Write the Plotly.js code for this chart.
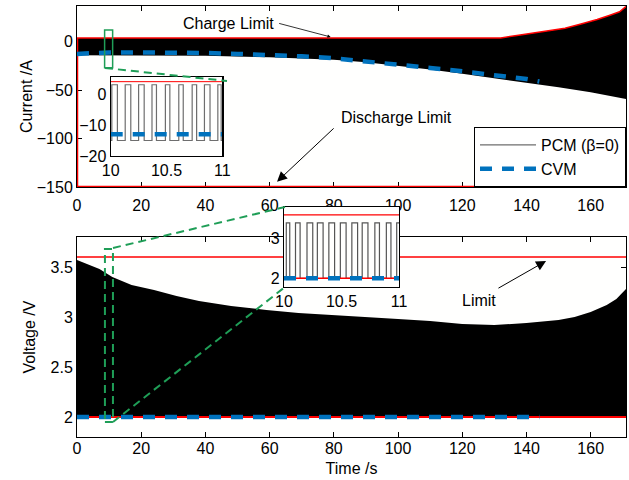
<!DOCTYPE html>
<html>
<head>
<meta charset="utf-8">
<script src="https://cdn.plot.ly/plotly-3.0.1.min.js"></script>
<style>html,body{margin:0;padding:0;background:#fff;}#chart{width:629px;height:480px;}</style>
</head>
<body>
<div id="chart"></div>
<script>
// ---------------- DATA ----------------
// Top panel: current (A)
const pcmLowT  = [0, 20, 40, 60, 70, 80, 90, 100, 110, 120, 130, 140, 150, 160, 171];
const pcmLowI  = [-14, -14, -14.5, -16, -17, -18.5, -21, -24.5, -28.5, -33, -37.5, -42, -47, -52, -59];
const chargeLimitT = [0, 132, 137, 142, 147, 152, 157, 162, 166, 169, 171];
const chargeLimitI = [4, 4, 6.5, 9, 11.5, 14, 18.5, 23, 27.5, 31, 36.5];
const dischargeLimitT = [0, 0, 171];
const dischargeLimitI = [4, -150, -150];
const cvmT = [0, 5, 10, 20, 30, 40, 50, 60, 70, 80, 90, 100, 110, 120, 130, 140, 144];
const cvmI = [-12.5, -11.5, -11, -11, -11, -11.5, -12.5, -13.5, -15, -17, -20, -23, -27, -30.5, -34, -38.5, -41];

// Top inset (10 s .. 11 s)
const insetPcmT = [10.00, 10.01, 10.06, 10.13, 10.18, 10.25, 10.30, 10.37, 10.41, 10.49, 10.53, 10.61, 10.65, 10.73, 10.77, 10.84, 10.89, 10.96, 10.99, 11.00];
const insetPcmI = [-15, 3, -15, 3, -15, 3, -15, 3, -15, 3, -15, 3, -15, 3, -15, 3, -15, 3, -15, -15];
const insetCvmT = [10, 11];
const insetCvmI = [-13, -13];
const insetLimitT = [10, 11];
const insetLimitI = [4, 4];

// Bottom panel: voltage (V)
const voltUpperT = [0, 7, 11, 17, 24, 31, 38, 48, 59, 69, 80, 90, 100, 110, 120, 130, 140, 150, 155, 160, 165, 168, 171];
const voltUpperV = [3.57, 3.48, 3.40, 3.32, 3.27, 3.21, 3.16, 3.11, 3.07, 3.04, 3.02, 3.00, 2.98, 2.96, 2.93, 2.92, 2.94, 2.97, 3.00, 3.05, 3.12, 3.18, 3.28];
const voltLowerT = [0, 171];
const voltLowerV = [2.0, 2.0];
const voltMaxT = [0, 171];
const voltMaxV = [3.6, 3.6];
const voltMinT = [0, 171];
const voltMinV = [2.0, 2.0];
const cvmVoltT = [0, 144];
const cvmVoltV = [2.0, 2.0];

// Bottom inset (10 s .. 11 s)
const insetVoltT = [10.00, 10.02, 10.05, 10.10, 10.14, 10.20, 10.25, 10.29, 10.34, 10.39, 10.44, 10.49, 10.54, 10.59, 10.64, 10.68, 10.73, 10.79, 10.83, 10.89, 10.93, 10.98, 11.00];
const insetVoltV = [2.0, 3.4, 2.0, 3.4, 2.0, 3.4, 2.0, 3.4, 2.0, 3.4, 2.0, 3.4, 2.0, 3.4, 2.0, 3.4, 2.0, 3.4, 2.0, 3.4, 2.0, 3.4, 3.4];
const insetVoltMaxV = [3.6, 3.6];
const insetVoltMinV = [2.0, 2.0];
const insetCvmVoltV = [2.0, 2.0];

// Ticks / labels
const timeTicks = [0, 20, 40, 60, 80, 100, 120, 140, 160];
const currentTicks = [-150, -100, -50, 0];
const voltTicks = [2, 2.5, 3, 3.5];
const insetTimeTicks = [10, 10.5, 11];
const insetTimeLabels = ['10', '10.5', '11'];
const insetCurrentTicks = [-20, -10, 0];
const insetVoltTicks = [2, 3];
const legendNames = ['PCM (β=0)', 'CVM'];

// ---------------- STYLE ----------------
const FONT = 'Liberation Sans, Arial, sans-serif';
const RED = '#ff0000';
const BLUE = '#0072BD';
const GREEN = '#1f9e57';
const CVM_DASH = '12px,10px';

// layout geometry in pixels
const W = 629, H = 480, ML = 77, MR = 3, MT = 6, MB = 43;
const PW = W - ML - MR, PH = H - MT - MB;
const px = x => (x - ML) / PW;
const py = y => (H - MB - y) / PH;

const polyX = pcmLowT.concat(chargeLimitT.slice().reverse());
const polyI = pcmLowI.concat(chargeLimitI.slice().reverse());
const polyVX = voltLowerT.concat(voltUpperT.slice().reverse());
const polyVV = voltLowerV.concat(voltUpperV.slice().reverse());

const traces = [
  // top panel
  {x: polyX, y: polyI, xaxis: 'x', yaxis: 'y', type: 'scatter', mode: 'lines', fill: 'toself',
   fillcolor: '#000000', line: {width: 0, color: '#000'}, showlegend: false, hoverinfo: 'skip'},
  {x: chargeLimitT, y: chargeLimitI, xaxis: 'x', yaxis: 'y', mode: 'lines', line: {color: RED, width: 1.5}, showlegend: false},
  {x: dischargeLimitT, y: dischargeLimitI, xaxis: 'x', yaxis: 'y', mode: 'lines', line: {color: RED, width: 2.5}, showlegend: false},
  {x: cvmT, y: cvmI, xaxis: 'x', yaxis: 'y', mode: 'lines', line: {color: BLUE, width: 4.5, dash: CVM_DASH}, name: legendNames[1], showlegend: true, legendrank: 2},
  // bottom panel
  {x: polyVX, y: polyVV, xaxis: 'x2', yaxis: 'y2', type: 'scatter', mode: 'lines', fill: 'toself',
   fillcolor: '#000000', line: {width: 0, color: '#000'}, showlegend: false, hoverinfo: 'skip'},
  {x: voltMaxT, y: voltMaxV, xaxis: 'x2', yaxis: 'y2', mode: 'lines', line: {color: RED, width: 1.5}, showlegend: false},
  {x: voltMinT, y: voltMinV, xaxis: 'x2', yaxis: 'y2', mode: 'lines', line: {color: RED, width: 2}, showlegend: false},
  {x: cvmVoltT, y: cvmVoltV, xaxis: 'x2', yaxis: 'y2', mode: 'lines', line: {color: BLUE, width: 4.5, dash: CVM_DASH}, showlegend: false},
  // top inset
  {x: insetLimitT, y: insetLimitI, xaxis: 'x3', yaxis: 'y3', mode: 'lines', line: {color: RED, width: 1}, showlegend: false},
  {x: insetPcmT, y: insetPcmI, xaxis: 'x3', yaxis: 'y3', mode: 'lines', line: {color: '#6e6e6e', width: 1.2, shape: 'hv'}, name: legendNames[0], showlegend: true, legendrank: 1},
  {x: insetCvmT, y: insetCvmI, xaxis: 'x3', yaxis: 'y3', mode: 'lines', line: {color: BLUE, width: 4.5, dash: CVM_DASH}, showlegend: false},
  // bottom inset
  {x: insetCvmT, y: insetVoltMaxV, xaxis: 'x4', yaxis: 'y4', mode: 'lines', line: {color: RED, width: 1.2}, showlegend: false},
  {x: insetVoltT, y: insetVoltV, xaxis: 'x4', yaxis: 'y4', mode: 'lines', line: {color: '#555', width: 1.2, shape: 'hv'}, showlegend: false},
  {x: insetCvmT, y: insetVoltMinV, xaxis: 'x4', yaxis: 'y4', mode: 'lines', line: {color: RED, width: 1.5}, showlegend: false},
  {x: insetCvmT, y: insetCvmVoltV, xaxis: 'x4', yaxis: 'y4', mode: 'lines', line: {color: BLUE, width: 4.5, dash: CVM_DASH}, showlegend: false}
];

const tickFont = {family: FONT, size: 16, color: '#000'};
const mainAxis = {
  showline: true, mirror: 'ticks', linecolor: '#000', linewidth: 1,
  ticks: 'inside', ticklen: 5, tickwidth: 1, tickcolor: '#000',
  showgrid: false, zeroline: false, tickfont: tickFont, layer: 'below traces'
};
const insetAxis = {
  showline: true, mirror: true, linecolor: '#000', linewidth: 1.2,
  ticks: '', showgrid: false, zeroline: false, tickfont: tickFont, layer: 'above traces'
};

const layout = {
  width: W, height: H,
  margin: {l: ML, r: MR, t: MT, b: MB, pad: 0},
  paper_bgcolor: '#ffffff', plot_bgcolor: '#fffffe',
  font: {family: FONT, size: 16, color: '#000'},
  showlegend: true,
  legend: {x: 1, xanchor: 'right', y: py(127), yanchor: 'top', bgcolor: '#ffffff',
           bordercolor: '#000', borderwidth: 1, font: {family: FONT, size: 16, color: '#000'},
           traceorder: 'normal', itemwidth: 56},
  xaxis: Object.assign({}, mainAxis, {domain: [0, 1], range: [0, 171], tickvals: timeTicks, anchor: 'y', ticklabelstandoff: 4}),
  yaxis: Object.assign({}, mainAxis, {domain: [py(187), 1], range: [-150, 37], tickvals: currentTicks, anchor: 'x',
          title: {text: 'Current /A', font: {family: FONT, size: 16}}}),
  xaxis2: Object.assign({}, mainAxis, {domain: [0, 1], range: [0, 171], tickvals: timeTicks, anchor: 'y2', ticklabelstandoff: -3,
          title: {text: 'Time /s', font: {family: FONT, size: 16}, standoff: 6}}),
  yaxis2: Object.assign({}, mainAxis, {domain: [0, py(237)], range: [1.8, 3.8], tickvals: voltTicks, anchor: 'x2',
          title: {text: 'Voltage /V', font: {family: FONT, size: 16}}}),
  xaxis3: Object.assign({}, insetAxis, {domain: [px(110.7), px(222.3)], range: [10, 11], tickvals: insetTimeTicks, ticktext: insetTimeLabels, anchor: 'y3'}),
  yaxis3: Object.assign({}, insetAxis, {domain: [py(156), py(76.7)], range: [-20, 5.6], tickvals: insetCurrentTicks, anchor: 'x3'}),
  xaxis4: Object.assign({}, insetAxis, {domain: [px(284), px(399)], range: [10, 11], tickvals: insetTimeTicks, ticktext: insetTimeLabels, anchor: 'y4'}),
  yaxis4: Object.assign({}, insetAxis, {domain: [py(287), py(207)], range: [1.78, 3.8], tickvals: insetVoltTicks, anchor: 'x4'}),
  shapes: [
    // zoom box + connector in top panel
    {type: 'rect', xref: 'x', yref: 'y', x0: 8.6, x1: 11.1, y0: -26.7, y1: 12.2, line: {color: GREEN, width: 1.5}, layer: 'above'},
    {type: 'line', xref: 'paper', yref: 'paper', x0: px(105), y0: py(68), x1: px(227), y1: py(81), line: {color: GREEN, width: 2, dash: '8px,5px'}, layer: 'above'},
    // zoom box + connectors in bottom panel
    {type: 'rect', xref: 'x2', yref: 'y2', x0: 8.7, x1: 11.2, y0: 1.95, y1: 3.68, line: {color: GREEN, width: 2, dash: '8px,5px'}, layer: 'above'},
    {type: 'line', xref: 'paper', yref: 'paper', x0: px(113), y0: py(248), x1: px(285), y1: py(207), line: {color: GREEN, width: 2, dash: '8px,5px'}, layer: 'above'},
    {type: 'line', xref: 'paper', yref: 'paper', x0: px(113), y0: py(422), x1: px(285), y1: py(287), line: {color: GREEN, width: 2, dash: '8px,5px'}, layer: 'above'}
  ],
  annotations: [
    {xref: 'x', yref: 'y', x: 47.3, y: 19.4, text: 'Charge Limit', showarrow: false, font: {family: FONT, size: 16}},
    {xref: 'x', yref: 'y', x: 79, y: 5, ax: 62.5, ay: 19.4, axref: 'x', ayref: 'y', text: '', showarrow: true,
     arrowhead: 2, arrowsize: 0.8, arrowwidth: 0.8, arrowcolor: '#000'},
    {xref: 'x', yref: 'y', x: 99.4, y: -77.7, text: 'Discharge Limit', showarrow: false, font: {family: FONT, size: 16}},
    {xref: 'x', yref: 'y', x: 62.3, y: -144.5, ax: 80.4, ay: -88, axref: 'x', ayref: 'y', text: '', showarrow: true,
     arrowhead: 2, arrowsize: 2, arrowwidth: 1, arrowcolor: '#000'},
    {xref: 'x2', yref: 'y2', x: 125.2, y: 3.17, text: 'Limit', showarrow: false, font: {family: FONT, size: 16}},
    {xref: 'x2', yref: 'y2', x: 146.1, y: 3.56, ax: 130.8, ay: 3.28, axref: 'x2', ayref: 'y2', text: '', showarrow: true,
     arrowhead: 2, arrowsize: 2, arrowwidth: 1, arrowcolor: '#000'}
  ]
};

Plotly.newPlot('chart', traces, layout, {displayModeBar: false, staticPlot: true});
</script>
</body>
</html>
